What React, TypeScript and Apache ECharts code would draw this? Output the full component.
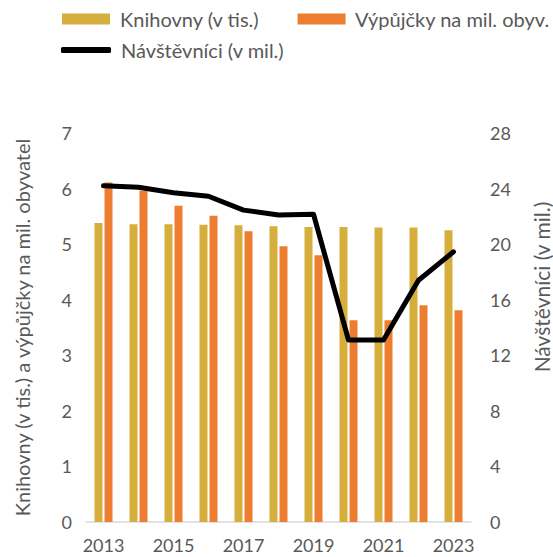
import React, { useEffect, useRef } from "react";
import * as echarts from "echarts";

const years = ["2013", "2014", "2015", "2016", "2017", "2018", "2019", "2020", "2021", "2022", "2023"];
const knihovny = [5.38, 5.36, 5.36, 5.35, 5.34, 5.32, 5.31, 5.31, 5.3, 5.3, 5.25];
const vypujcky = [6.11, 5.96, 5.69, 5.51, 5.23, 4.96, 4.8, 3.63, 3.63, 3.9, 3.81];
const navstevnici = [24.2, 24.1, 23.7, 23.45, 22.45, 22.1, 22.15, 13.1, 13.1, 17.4, 19.45];

const FONT = "Lato, 'Open Sans', sans-serif";
const TXT = "#595959";
const GOLD = "#D6AE3B";
const ORANGE = "#ED7D31";

export default function App() {
  const ref = useRef<HTMLDivElement>(null);
  useEffect(() => {
    if (!ref.current) return;
    const chart = echarts.init(ref.current, undefined, { renderer: "svg" });
    chart.setOption({
      animation: false,
      textStyle: { fontFamily: FONT },
      legend: [
        {
          data: ["Knihovny (v tis.)", "Výpůjčky na mil. obyv."],
          left: 62,
          top: 9,
          width: 491,
          orient: "horizontal",
          icon: "rect",
          itemWidth: 48,
          itemHeight: 11,
          itemGap: 38,
          padding: 0,
          formatter: (n: string) => " " + n,
          textStyle: { fontSize: 20, color: TXT, fontFamily: FONT },
        },
        {
          data: ["Návštěvníci (v mil.)"],
          left: 61,
          top: 40,
          width: 300,
          orient: "horizontal",
          icon: "roundRect",
          itemWidth: 50,
          itemHeight: 6,
          padding: 0,
          formatter: (n: string) => " " + n,
          textStyle: { fontSize: 20, color: TXT, fontFamily: FONT },
        },
      ],
      grid: { left: 86, right: 82, top: 133, bottom: 35 },
      xAxis: {
        type: "category",
        data: years,
        axisLine: { lineStyle: { color: "#D9D9D9", width: 1.5 } },
        axisTick: { show: false },
        axisLabel: { interval: 1, fontSize: 18, color: TXT, margin: 14, fontFamily: FONT },
      },
      yAxis: [
        {
          type: "value",
          min: 0,
          max: 7,
          interval: 1,
          splitLine: { show: false },
          axisLine: { show: false },
          axisLabel: { fontSize: 18, color: TXT, margin: 14, fontFamily: FONT },
          name: "Knihovny (v tis.) a výpůjčky na mil. obyvatel",
          nameLocation: "middle",
          nameRotate: 90,
          nameGap: 54,
          nameTextStyle: { fontSize: 20, color: TXT, fontFamily: FONT },
        },
        {
          type: "value",
          min: 0,
          max: 28,
          interval: 4,
          position: "right",
          splitLine: { show: false },
          axisLine: { show: false },
          axisLabel: { fontSize: 18, color: TXT, margin: 19, fontFamily: FONT },
        },
      ],
      graphic: [
        {
          type: "text",
          x: 541,
          y: 287,
          rotation: Math.PI / 2,
          style: {
            text: "Návštěvníci (v mil.)",
            fill: TXT,
            font: `21px ${FONT}`,
            align: "center",
            verticalAlign: "middle",
          },
        },
      ],
      series: [
        {
          name: "Knihovny (v tis.)",
          type: "bar",
          data: knihovny,
          barWidth: 8,
          barGap: "25%",
          itemStyle: { color: GOLD },
        },
        {
          name: "Výpůjčky na mil. obyv.",
          type: "bar",
          data: vypujcky,
          barWidth: 8,
          itemStyle: { color: ORANGE },
        },
        {
          name: "Návštěvníci (v mil.)",
          type: "line",
          yAxisIndex: 1,
          data: navstevnici,
          symbol: "none",
          itemStyle: { color: "#000" },
          lineStyle: { color: "#000", width: 5, join: "round", cap: "round" },
        },
      ],
    });
    return () => chart.dispose();
  }, []);
  return <div ref={ref} style={{ width: 553, height: 557, position: "absolute", left: 0, top: 0 }} />;
}
